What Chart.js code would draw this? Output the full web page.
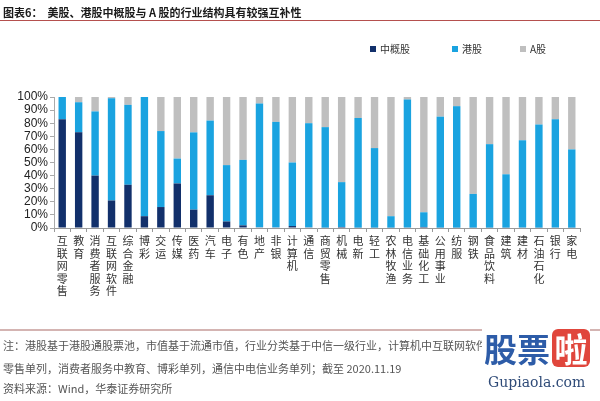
<!DOCTYPE html>
<html>
<head>
<meta charset="utf-8">
<script src="https://cdn.jsdelivr.net/npm/chart.js@4.4.1/dist/chart.umd.min.js"></script>
<style>
    body { margin: 0; background: #fff; font-family: "Noto Sans CJK SC", sans-serif; }
    #wrap { position: relative; width: 600px; height: 401px; overflow: hidden; }
    #chartTitle { position: absolute; left: 3px; top: 4px; font-size: 11px; font-weight: bold; color: #1a1a1a; white-space: nowrap; }
    #titleLine { position: absolute; left: 0; top: 20px; width: 600px; height: 1px; background: #b5504e; }
    .lg { position: absolute; top: 41px; font-size: 10px; color: #333; white-space: nowrap; }
    .lg i { display: inline-block; width: 6px; height: 6px; margin-right: 4px; vertical-align: 1px; }
    #footLine { position: absolute; left: 0; top: 329px; width: 600px; height: 2px; background: #d4b4b2; }
    .note { position: absolute; left: 3px; font-size: 11px; color: #555; white-space: nowrap; }
    #wm1 { position: absolute; left: 482px; top: 328px; font-size: 33px; font-weight: bold; color: #2d5ca8; line-height: 40px; background: #fff; padding-left: 2px; }
    #wm1 span { display: inline-block; background: #e0463c; color: #fff; border-radius: 6px; line-height: 38px; width: 38px; text-align: center; margin-left: 2px; }
    #wm2 { position: absolute; left: 488px; top: 374px; font-family: "DejaVu Serif", serif; font-size: 14px; color: #2f4b78; }
    canvas { position: absolute; left: 0; top: 0; }
</style>
</head>
<body>
<div id="wrap">
    <canvas id="mainChart" width="600" height="401" style="width:600px;height:401px"></canvas>
    <div id="chartTitle">图表6：&nbsp;&nbsp;美股、港股中概股与 A 股的行业结构具有较强互补性</div>
    <div id="titleLine"></div>
    <div id="legendBox"></div>
    <div id="footLine"></div>
    <div class="note" style="top:337px">注：港股基于港股通股票池，市值基于流通市值，行业分类基于中信一级行业，计算机中互联网软件</div>
    <div class="note" style="top:360px">零售单列，消费者服务中教育、博彩单列，通信中电信业务单列；截至 2020.11.19</div>
    <div class="note" style="top:380px">资料来源：Wind，华泰证券研究所</div>
    <div id="wm1">股票<span>啦</span></div>
    <div id="wm2">Gupiaola.com</div>
</div>
<script>
// industries, left to right
var industries = ["互联网零售", "教育", "消费者服务", "互联网软件", "综合金融", "博彩", "交运", "传媒",
    "医药", "汽车", "电子", "有色", "地产", "非银", "计算机", "通信",
    "商贸零售", "机械", "电新", "轻工", "农林牧渔", "电信业务", "基础化工", "公用事业",
    "纺服", "钢铁", "食品饮料", "建筑", "建材", "石油石化", "银行", "家电"];

// share of each market in the industry (%)
var chinaConcept = [83, 73, 40, 21, 33, 9, 16, 34, 14, 25, 5, 2, 0.5, 0.5, 1.5, 0.5,
    0.3, 0.8, 0.3, 0.3, 0.3, 0.3, 0.8, 0.3, 0.3, 0.3, 0.3, 0.3, 0.3, 0.3, 0.3, 0.3];
var hkShares = [17, 23, 49, 78, 61, 91, 58, 19, 59, 57, 43, 50, 94.5, 80.5, 48.5, 79.5,
    76.7, 34.2, 83.7, 60.7, 8.7, 97.7, 11.2, 84.7, 92.7, 25.7, 63.7, 40.7, 66.7, 78.7, 82.7, 59.7];
var aShares = [0, 4, 11, 1, 6, 0, 26, 47, 27, 18, 52, 48, 5, 19, 50, 20,
    23, 65, 16, 39, 91, 2, 88, 15, 7, 74, 36, 59, 33, 21, 17, 40];

var seriesNames = ["中概股", "港股", "A股"];
var seriesColors = ["#12306b", "#1aa3e0", "#bfbfbf"];
var legendLeft = [370, 452, 520];

// vertical labels: one character per line
var verticalLabels = [];
for (var i = 0; i < industries.length; i++) {
    verticalLabels.push(industries[i].split(""));
}

// legend
var legendHtml = "";
for (var k = 0; k < seriesNames.length; k++) {
    legendHtml += '<div class="lg" style="left:' + legendLeft[k] + 'px"><i style="background:' + seriesColors[k] + '"></i>' + seriesNames[k] + '</div>';
}
document.getElementById("legendBox").innerHTML = legendHtml;

var seriesData = [chinaConcept, hkShares, aShares];
var datasets = [];
for (var s = 0; s < seriesNames.length; s++) {
    datasets.push({
        label: seriesNames[s],
        data: seriesData[s],
        backgroundColor: seriesColors[s],
        barPercentage: 0.45,
        categoryPercentage: 1
    });
}

var ctx = document.getElementById("mainChart").getContext("2d");
var mainChart = new Chart(ctx, {
    type: "bar",
    data: {
        labels: verticalLabels,
        datasets: datasets
    },
    options: {
        responsive: false,
        animation: false,
        layout: { padding: { top: 97, right: 20, left: 0, bottom: 0 } },
        plugins: {
            legend: { display: false },
            tooltip: { enabled: false }
        },
        scales: {
            x: {
                stacked: true,
                afterFit: function (scale) { scale.height = 173; },
                grid: { drawOnChartArea: false, tickLength: 4, color: "#999" },
                border: { color: "#999" },
                ticks: {
                    autoSkip: false,
                    maxRotation: 0,
                    padding: 3,
                    color: "#333",
                    font: { family: "Noto Sans CJK SC", size: 11, lineHeight: "12.5px" }
                }
            },
            y: {
                stacked: true,
                min: 0,
                max: 100,
                afterFit: function (scale) { scale.width = 54; },
                grid: { drawOnChartArea: false, tickLength: 4, color: "#aaa" },
                border: { color: "#aaa" },
                ticks: {
                    stepSize: 10,
                    autoSkip: false,
                    padding: 2,
                    color: "#222",
                    font: { family: "Liberation Sans", size: 12, lineHeight: 1 },
                    callback: function (v) { return v + "%"; }
                }
            }
        }
    }
});
</script>
</body>
</html>
